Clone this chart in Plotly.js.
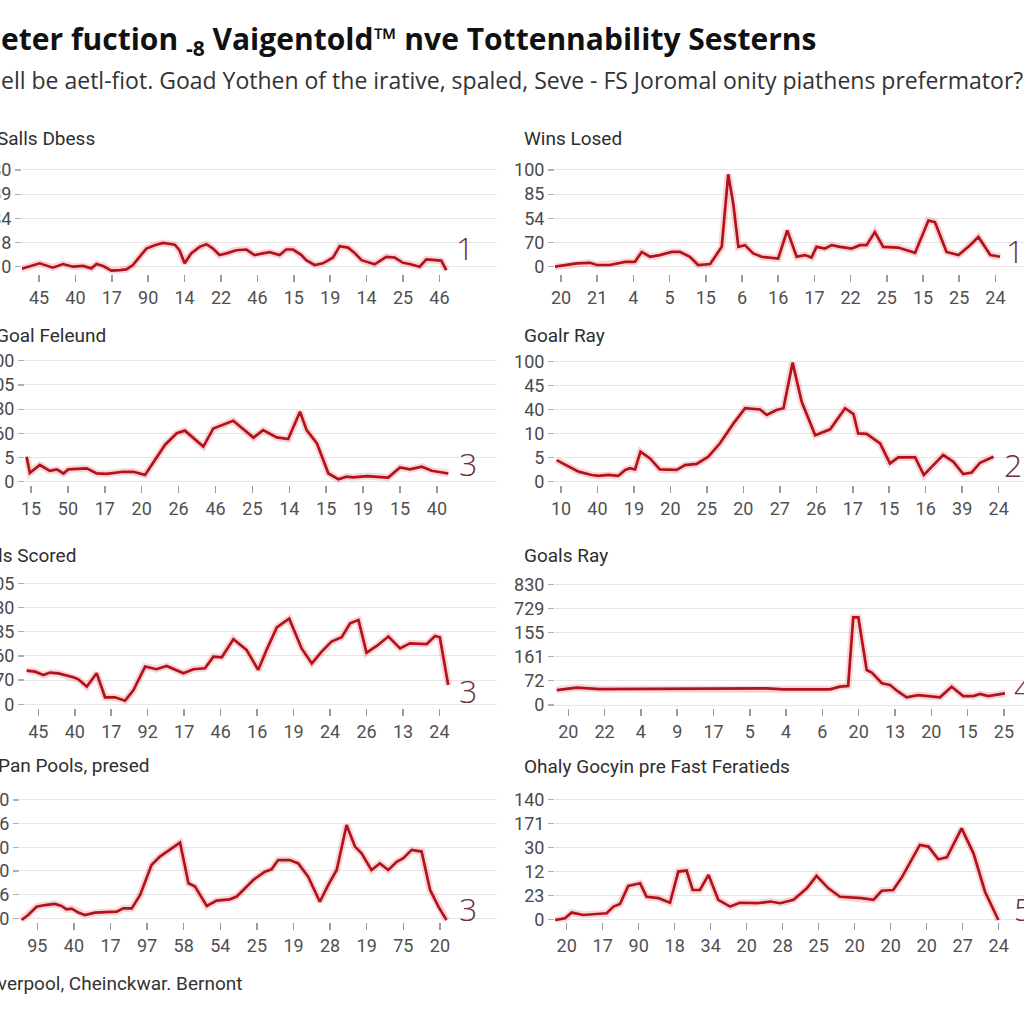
<!DOCTYPE html>
<html><head><meta charset="utf-8">
<script src="https://cdn.plot.ly/plotly-3.0.1.min.js"></script>
<style>html,body{margin:0;padding:0;background:#fff}#chart{width:1024px;height:1024px}</style>
</head><body><div id="chart"></div>
<script>
// ---- data (x in tick-slot units, y in axis-level units) ----
const p1XLabels=["45","40","17","90","14","22","46","15","19","14","25","46"];
const p1YLabels=["0","8","84","89","80"];
const p1X=[-0.53,-0.26,0.02,0.38,0.66,0.93,1.21,1.44,1.58,1.76,1.99,2.22,2.40,2.58,2.77,2.95,3.18,3.41,3.73,3.86,4.00,4.18,4.41,4.60,4.78,4.96,5.15,5.42,5.70,5.92,6.15,6.34,6.61,6.79,6.98,7.21,7.34,7.57,7.80,8.08,8.26,8.49,8.67,8.86,9.22,9.54,9.77,10.0,10.18,10.46,10.64,10.92,11.05,11.19];
const p1Y=[-0.11,0,0.14,-0.04,0.11,0,0.03,-0.07,0.11,0.03,-0.16,-0.14,-0.11,0.07,0.41,0.75,0.89,0.98,0.91,0.68,0.14,0.55,0.82,0.93,0.75,0.48,0.55,0.68,0.71,0.48,0.55,0.60,0.48,0.71,0.71,0.48,0.27,0.07,0.14,0.38,0.85,0.79,0.57,0.27,0.10,0.41,0.38,0.16,0.11,0,0.30,0.27,0.25,-0.14];

const p2XLabels=["20","21","4","5","15","6","16","17","22","25","15","25","24"];
const p2YLabels=["0","70","54","85","100"];
const p2X=[-0.17,0.16,0.43,0.80,0.99,1.35,1.58,1.77,2.04,2.23,2.46,2.73,3.06,3.29,3.56,3.79,4.12,4.30,4.44,4.62,4.76,4.90,5.08,5.31,5.54,6.00,6.25,6.51,6.74,6.92,7.06,7.29,7.48,7.71,8.03,8.26,8.44,8.67,8.90,9.31,9.78,10.15,10.33,10.65,10.98,11.30,11.53,11.86,12.13];
const p2Y=[0,0.07,0.14,0.16,0.07,0.07,0.14,0.20,0.20,0.61,0.41,0.48,0.61,0.61,0.41,0.07,0.11,0.48,0.82,3.82,2.59,0.82,0.89,0.55,0.41,0.34,1.50,0.41,0.48,0.38,0.82,0.75,0.89,0.82,0.75,0.89,0.89,1.43,0.82,0.79,0.57,1.91,1.84,0.61,0.48,0.89,1.23,0.48,0.41];

const p3XLabels=["15","50","17","20","26","46","25","14","15","19","15","40"];
const p3YLabels=["0","5","60","80","05","00"];
const p3X=[-0.12,-0.03,0.24,0.51,0.70,0.88,1.01,1.51,1.78,2.05,2.50,2.77,3.09,3.32,3.63,3.95,4.17,4.67,4.94,5.48,6.03,6.29,6.66,6.97,7.29,7.47,7.75,8.06,8.33,8.55,8.73,9.10,9.37,9.68,10.00,10.27,10.59,10.86,11.31];
const p3Y=[1.03,0.37,0.69,0.45,0.51,0.34,0.51,0.55,0.34,0.32,0.41,0.41,0.28,0.79,1.52,2.00,2.11,1.45,2.20,2.52,1.82,2.13,1.83,1.76,2.89,2.13,1.58,0.34,0.10,0.21,0.18,0.23,0.21,0.17,0.59,0.51,0.62,0.45,0.34];

const p4XLabels=["10","40","19","20","25","20","27","26","17","15","16","39","24"];
const p4YLabels=["0","5","10","40","45","100"];
const p4X=[-0.12,0.16,0.48,0.84,1.02,1.30,1.57,1.76,1.89,2.03,2.18,2.44,2.71,3.17,3.40,3.72,4.04,4.36,4.73,5.05,5.46,5.64,5.91,6.10,6.35,6.60,6.97,7.38,7.79,8.02,8.15,8.38,8.75,9.02,9.25,9.71,9.95,10.21,10.48,10.76,11.03,11.26,11.49,11.86];
const p4Y=[0.90,0.69,0.42,0.28,0.24,0.28,0.24,0.49,0.56,0.51,1.25,0.97,0.51,0.49,0.69,0.74,1.04,1.60,2.43,3.06,3.01,2.78,2.99,3.06,4.96,3.33,1.94,2.18,3.06,2.82,2.01,1.99,1.60,0.76,1.01,1.01,0.28,0.69,1.11,0.83,0.32,0.38,0.79,1.04];

const p5XLabels=["45","40","17","92","17","46","16","19","24","26","13","24"];
const p5YLabels=["0","70","60","85","80","05"];
const p5X=[-0.32,-0.09,0.14,0.32,0.55,0.96,1.10,1.33,1.60,1.83,2.10,2.38,2.61,2.93,3.24,3.52,3.98,4.25,4.57,4.80,5.03,5.35,5.71,6.03,6.26,6.54,6.88,7.22,7.50,7.77,8.04,8.32,8.55,8.78,9.00,9.28,9.60,9.92,10.19,10.65,10.88,11.01,11.24];
const p5Y=[1.39,1.35,1.21,1.31,1.28,1.12,1.03,0.73,1.28,0.29,0.29,0.15,0.59,1.56,1.45,1.58,1.28,1.45,1.49,1.97,1.94,2.69,2.25,1.42,2.25,3.18,3.54,2.31,1.69,2.18,2.59,2.77,3.35,3.48,2.13,2.41,2.80,2.31,2.52,2.49,2.82,2.77,0.80];

const p6XLabels=["20","22","4","9","17","5","4","6","20","13","20","15","25"];
const p6YLabels=["0","72","161","155","729","830"];
const p6X=[-0.32,0.23,0.87,2.71,5.46,5.92,7.21,7.48,7.71,7.85,7.99,8.22,8.36,8.64,8.86,9.09,9.32,9.64,9.96,10.24,10.56,10.88,11.16,11.34,11.57,11.80,12.03];
const p6Y=[0.62,0.72,0.66,0.66,0.69,0.65,0.65,0.76,0.79,3.63,3.63,1.45,1.34,0.90,0.83,0.55,0.32,0.41,0.37,0.32,0.76,0.37,0.37,0.46,0.37,0.41,0.48];

const p7XLabels=["95","40","17","97","58","54","25","19","28","19","75","20"];
const p7YLabels=["0","16","10","80","56","80"];
const p7X=[-0.43,-0.25,-0.02,0.21,0.48,0.66,0.80,0.94,1.12,1.30,1.58,2.17,2.35,2.58,2.81,3.12,3.35,3.62,3.90,4.13,4.31,4.63,4.90,5.26,5.45,5.90,6.22,6.40,6.58,6.90,7.13,7.40,7.72,7.95,8.18,8.45,8.68,8.86,9.13,9.36,9.59,9.82,10.00,10.23,10.50,10.73,10.96,11.18];
const p7Y=[-0.07,0.14,0.49,0.56,0.61,0.52,0.38,0.41,0.24,0.14,0.24,0.28,0.42,0.42,0.99,2.25,2.61,2.89,3.20,1.48,1.34,0.52,0.75,0.80,0.92,1.62,1.97,2.07,2.46,2.46,2.32,1.76,0.70,1.41,2.04,3.94,3.03,2.75,2.04,2.32,2.04,2.39,2.54,2.89,2.82,1.20,0.49,-0.07];

const p8XLabels=["20","17","90","18","34","20","28","25","20","20","20","27","24"];
const p8YLabels=["0","23","12","30","171","140"];
const p8X=[-0.32,-0.05,0.14,0.46,0.83,1.11,1.30,1.48,1.71,2.04,2.22,2.55,2.87,3.10,3.33,3.50,3.70,3.94,4.21,4.54,4.81,5.28,5.65,5.93,6.30,6.67,6.94,7.27,7.59,8.19,8.52,8.75,9.07,9.31,9.81,10.05,10.32,10.56,10.97,11.30,11.62,11.99];
const p8Y=[-0.03,0.04,0.28,0.18,0.22,0.25,0.53,0.64,1.39,1.50,0.94,0.88,0.69,1.99,2.03,1.22,1.22,1.85,0.81,0.53,0.69,0.67,0.74,0.67,0.81,1.29,1.81,1.29,0.94,0.88,0.81,1.19,1.22,1.75,3.10,3.03,2.50,2.58,3.79,2.75,1.15,-0.03];

const panelTitles=["Salls Dbess","Wins Losed","Goal Feleund","Goalr Ray","Goals Scored","Goals Ray","Pan Pools, presed","Ohaly Gocyin pre Fast Feratieds"];
const endLabels=["1","1","3","2","3","4","3","5"];
const mainTitle="eter fuction <sub>-8</sub> Vaigentold™ nve Tottennability Sesterns";
const subTitle="ell be aetl-fiot. Goad Yothen of the irative, spaled, Seve - FS Joromal onity piathens prefermator?";
const footer="Liverpool, Cheinckwar. Bernont";

// ---- layout geometry (pixels) ----
const W=1024,H=1024;
const geo=[
 {d:p1X,v:p1Y,xl:p1XLabels,yl:p1YLabels,dx:[22,497],dy:[165,274],xc:[39,36.4],yc:[266.7,24.2],t:[-5,138],n:[465,247,'center']},
 {d:p2X,v:p2Y,xl:p2XLabels,yl:p2YLabels,dx:[555,1024],dy:[165,274],xc:[561,36.2],yc:[266.7,24.2],t:[522,138],n:[1004,250,'left']},
 {d:p3X,v:p3Y,xl:p3XLabels,yl:p3YLabels,dx:[25,497],dy:[355,485],xc:[31,36.9],yc:[481.7,24.2],t:[-6,335],n:[468,463,'center']},
 {d:p4X,v:p4Y,xl:p4XLabels,yl:p4YLabels,dx:[555,1024],dy:[355,485],xc:[561,36.47],yc:[481.7,24.0],t:[522,335],n:[1002,464,'left']},
 {d:p5X,v:p5Y,xl:p5XLabels,yl:p5YLabels,dx:[25,497],dy:[578,708],xc:[38.3,36.47],yc:[704.3,24.2],t:[-38,555],n:[468,690,'center']},
 {d:p6X,v:p6Y,xl:p6XLabels,yl:p6YLabels,dx:[555,1024],dy:[578,708],xc:[568.3,36.3],yc:[705,24.13],t:[522,555],n:[1012,687,'left']},
 {d:p7X,v:p7Y,xl:p7XLabels,yl:p7YLabels,dx:[20,497],dy:[795,922],xc:[37.3,36.6],yc:[918.3,23.67],t:[-4,765],n:[468,908,'center']},
 {d:p8X,v:p8Y,xl:p8XLabels,yl:p8YLabels,dx:[555,1024],dy:[795,922],xc:[566.7,36],yc:[919.3,24],t:[522,766],n:[1012,908,'left']}
];
const FONT="Roboto, 'Open Sans', sans-serif";
const HFONT="'Open Sans', Roboto, sans-serif";
const data=[], layout={width:W,height:H,margin:{l:0,r:0,t:0,b:0},paper_bgcolor:'#fff',plot_bgcolor:'rgba(0,0,0,0)',showlegend:false,annotations:[]};
const px=x=>x/W, py=y=>1-y/H;
geo.forEach((g,i)=>{
  const k=i===0?'':String(i+1);
  const xa='x'+k, ya='y'+k;
  data.push({x:g.d,y:g.v,xaxis:xa,yaxis:ya,type:'scatter',mode:'lines',line:{color:'rgba(225,70,70,0.22)',width:7},hoverinfo:'skip',cliponaxis:false});
  data.push({x:g.d,y:g.v,xaxis:xa,yaxis:ya,type:'scatter',mode:'lines',line:{color:'#b3121d',width:2.7},cliponaxis:false});
  layout['xaxis'+k]={domain:[px(g.dx[0]),px(g.dx[1])],range:[(g.dx[0]-g.xc[0])/g.xc[1],(g.dx[1]-g.xc[0])/g.xc[1]],anchor:ya,
    tickmode:'array',tickvals:g.xl.map((_,j)=>j),ticktext:g.xl,showgrid:false,zeroline:false,showline:false,
    ticks:'outside',ticklen:7,tickwidth:1.5,tickcolor:'#9a9a9a',tickfont:{family:FONT,size:18,color:'#505050'},fixedrange:true};
  layout['yaxis'+k]={domain:[py(g.dy[1]),py(g.dy[0])],range:[(g.yc[0]-g.dy[1])/g.yc[1],(g.yc[0]-g.dy[0])/g.yc[1]],anchor:xa,
    tickmode:'array',tickvals:g.yl.map((_,j)=>j),ticktext:g.yl,showgrid:true,gridcolor:'#e6e6e6',gridwidth:1,zeroline:false,showline:false,
    ticks:'outside',ticklen:6,tickwidth:1.2,tickcolor:'#b0b0b0',tickfont:{family:FONT,size:18,color:'#4a4a4a'},fixedrange:true};
  layout.annotations.push({text:panelTitles[i],xref:'paper',yref:'paper',x:px(g.t[0]),y:py(g.t[1]),xanchor:'left',yanchor:'middle',showarrow:false,font:{family:FONT,size:19,color:'#2e2e2e'}});
  layout.annotations.push({text:endLabels[i],xref:'paper',yref:'paper',x:px(g.n[0]),y:py(g.n[1]),xanchor:g.n[2],yanchor:'middle',showarrow:false,font:{family:HFONT,size:32,color:'#6e2d3a',weight:300}});
});
layout.annotations.push({text:mainTitle,xref:'paper',yref:'paper',x:px(-1),y:py(40),xanchor:'left',yanchor:'middle',showarrow:false,font:{family:HFONT,size:30,color:'#111',weight:700}});
layout.annotations.push({text:subTitle,xref:'paper',yref:'paper',x:px(-1),y:py(80),xanchor:'left',yanchor:'middle',showarrow:false,font:{family:HFONT,size:23,color:'#333'}});
layout.annotations.push({text:footer,xref:'paper',yref:'paper',x:px(-19),y:py(983),xanchor:'left',yanchor:'middle',showarrow:false,font:{family:FONT,size:19,color:'#333'}});
Plotly.newPlot('chart',data,layout,{displayModeBar:false,staticPlot:true});
</script></body></html>
